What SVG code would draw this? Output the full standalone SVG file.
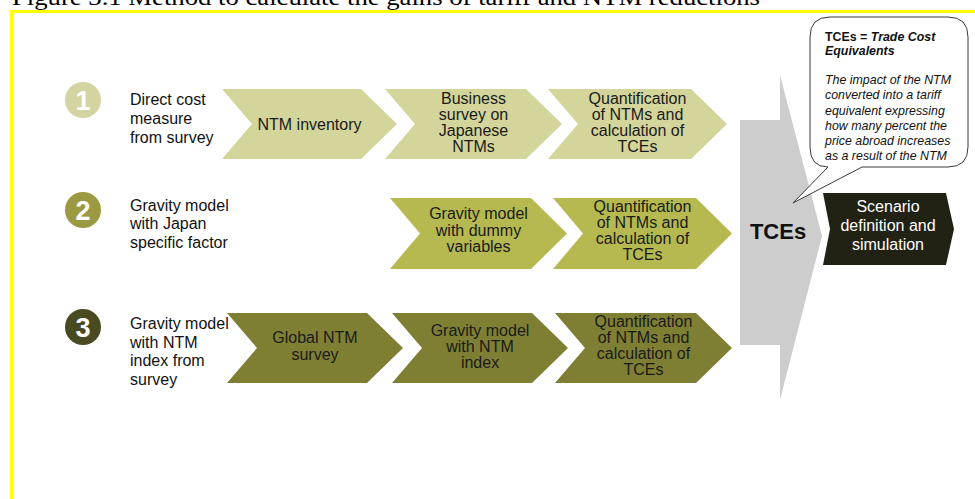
<svg xmlns="http://www.w3.org/2000/svg" width="975" height="499" viewBox="0 0 975 499">
<style>
  .title{font-family:"Liberation Serif","Times New Roman",serif;font-size:24px;fill:#000}
  .lbl{font-family:"Liberation Sans",Arial,sans-serif;font-size:16px;fill:#111}
  .ct{font-family:"Liberation Sans",Arial,sans-serif;font-size:16px;fill:#1a1a1a;text-anchor:middle}
  .num{font-family:"Liberation Sans",Arial,sans-serif;font-size:27px;font-weight:bold;fill:#fff;text-anchor:middle}
  .r1{fill:#d3d59a}
  .r2{fill:#b5b94f}
  .r3{fill:#7f7f33}
  .bub{font-family:"Liberation Sans",Arial,sans-serif;font-size:12.4px;fill:#111}
</style>
<rect width="975" height="499" fill="#fff"/>
<text class="title" x="12" y="4.5" textLength="748" lengthAdjust="spacingAndGlyphs">Figure 3.1 Method to calculate the gains of tariff and NTM reductions</text>
<rect x="11.5" y="11.5" width="1000" height="600" fill="none" stroke="#ffff00" stroke-width="3"/>

<g id="row1-label">
  <circle cx="83" cy="100" r="18" fill="#d3d4a1"/>
  <text class="num" x="83" y="110">1</text>
  <text class="lbl" x="130" y="105">Direct cost</text>
  <text class="lbl" x="130" y="124">measure</text>
  <text class="lbl" x="130" y="143">from survey</text>
</g>
<g id="row2-label">
  <circle cx="83" cy="210" r="18" fill="#9c9a40"/>
  <text class="num" x="83" y="220">2</text>
  <text class="lbl" x="130" y="211">Gravity model</text>
  <text class="lbl" x="130" y="229">with Japan</text>
  <text class="lbl" x="130" y="248">specific factor</text>
</g>
<g id="row3-label">
  <circle cx="83" cy="327" r="18" fill="#4a4a22"/>
  <text class="num" x="83" y="337">3</text>
  <text class="lbl" x="130" y="329">Gravity model</text>
  <text class="lbl" x="130" y="348">with NTM</text>
  <text class="lbl" x="130" y="366">index from</text>
  <text class="lbl" x="130" y="385">survey</text>
</g>

<g id="r1c1">
  <polygon class="r1" points="222,89 361,89 397,124 361,159 222,159 252,124"/>
  <text class="ct" x="309.5" y="129.5">NTM inventory</text>
</g>
<g id="r1c2">
  <polygon class="r1" points="385,89 526,89 562,124 526,159 385,159 415,124"/>
  <text class="ct" x="473.5" y="104">Business</text>
  <text class="ct" x="473.5" y="120">survey on</text>
  <text class="ct" x="473.5" y="136">Japanese</text>
  <text class="ct" x="473.5" y="152">NTMs</text>
</g>
<g id="r1c3">
  <polygon class="r1" points="548,89 691,89 727,124 691,159 548,159 578,124"/>
  <text class="ct" x="637.5" y="104">Quantification</text>
  <text class="ct" x="637.5" y="120">of NTMs and</text>
  <text class="ct" x="637.5" y="136">calculation of</text>
  <text class="ct" x="637.5" y="152">TCEs</text>
</g>

<g id="r2c1">
  <polygon class="r2" points="390,198 531,198 567,233.5 531,269 390,269 420,233.5"/>
  <text class="ct" x="478.5" y="219">Gravity model</text>
  <text class="ct" x="478.5" y="235.5">with dummy</text>
  <text class="ct" x="478.5" y="252">variables</text>
</g>
<g id="r2c2">
  <polygon class="r2" points="553,198 696,198 732,233.5 696,269 553,269 583,233.5"/>
  <text class="ct" x="642.5" y="212">Quantification</text>
  <text class="ct" x="642.5" y="228">of NTMs and</text>
  <text class="ct" x="642.5" y="244">calculation of</text>
  <text class="ct" x="642.5" y="260">TCEs</text>
</g>

<g id="r3c1">
  <polygon class="r3" points="227,313 367,313 403,348 367,383 227,383 257,348"/>
  <text class="ct" x="315" y="343">Global NTM</text>
  <text class="ct" x="315" y="360">survey</text>
</g>
<g id="r3c2">
  <polygon class="r3" points="392,313 532,313 568,348 532,383 392,383 422,348"/>
  <text class="ct" x="480" y="336">Gravity model</text>
  <text class="ct" x="480" y="352">with NTM</text>
  <text class="ct" x="480" y="368">index</text>
</g>
<g id="r3c3">
  <polygon class="r3" points="555,313 696,313 732,348 696,383 555,383 585,348"/>
  <text class="ct" x="643.5" y="327">Quantification</text>
  <text class="ct" x="643.5" y="343">of NTMs and</text>
  <text class="ct" x="643.5" y="359">calculation of</text>
  <text class="ct" x="643.5" y="375">TCEs</text>
</g>

<g id="tces">
  <polygon fill="#cdcdcd" points="740,120 780,120 780,75 822,236 780,400 780,345 740,345"/>
  <text x="778" y="239" font-family="Liberation Sans, Arial, sans-serif" font-size="22" font-weight="bold" fill="#111" text-anchor="middle">TCEs</text>
</g>

<g id="scenario">
  <polygon fill="#222214" points="823,193 946,193 954,229 946,265 823,265 830,229"/>
  <text x="888" y="212" font-family="Liberation Sans, Arial, sans-serif" font-size="16" fill="#fff" text-anchor="middle">Scenario</text>
  <text x="888" y="231" font-family="Liberation Sans, Arial, sans-serif" font-size="16" fill="#fff" text-anchor="middle">definition and</text>
  <text x="888" y="250" font-family="Liberation Sans, Arial, sans-serif" font-size="16" fill="#fff" text-anchor="middle">simulation</text>
</g>

<g id="callout">
  <path d="M830,17 H948 Q968,17 968,37 V147 Q968,167 948,167 H862 L793,203 L828,167 Q810,167 810,147 V37 Q810,17 830,17 Z" fill="#fff" stroke="#3a3a3a" stroke-width="1"/>
  <text class="bub" x="825" y="41" font-weight="bold">TCEs = <tspan font-style="italic">Trade Cost</tspan></text>
  <text class="bub" x="825" y="55" font-weight="bold" font-style="italic">Equivalents</text>
  <text class="bub" x="825" y="84" font-style="italic">The impact of the NTM</text>
  <text class="bub" x="825" y="99" font-style="italic">converted into a tariff</text>
  <text class="bub" x="825" y="114.5" font-style="italic">equivalent expressing</text>
  <text class="bub" x="825" y="130" font-style="italic">how many percent the</text>
  <text class="bub" x="825" y="145" font-style="italic">price abroad increases</text>
  <text class="bub" x="825" y="160" font-style="italic">as a result of the NTM</text>
</g>

<g id="connectors"></g>
</svg>
